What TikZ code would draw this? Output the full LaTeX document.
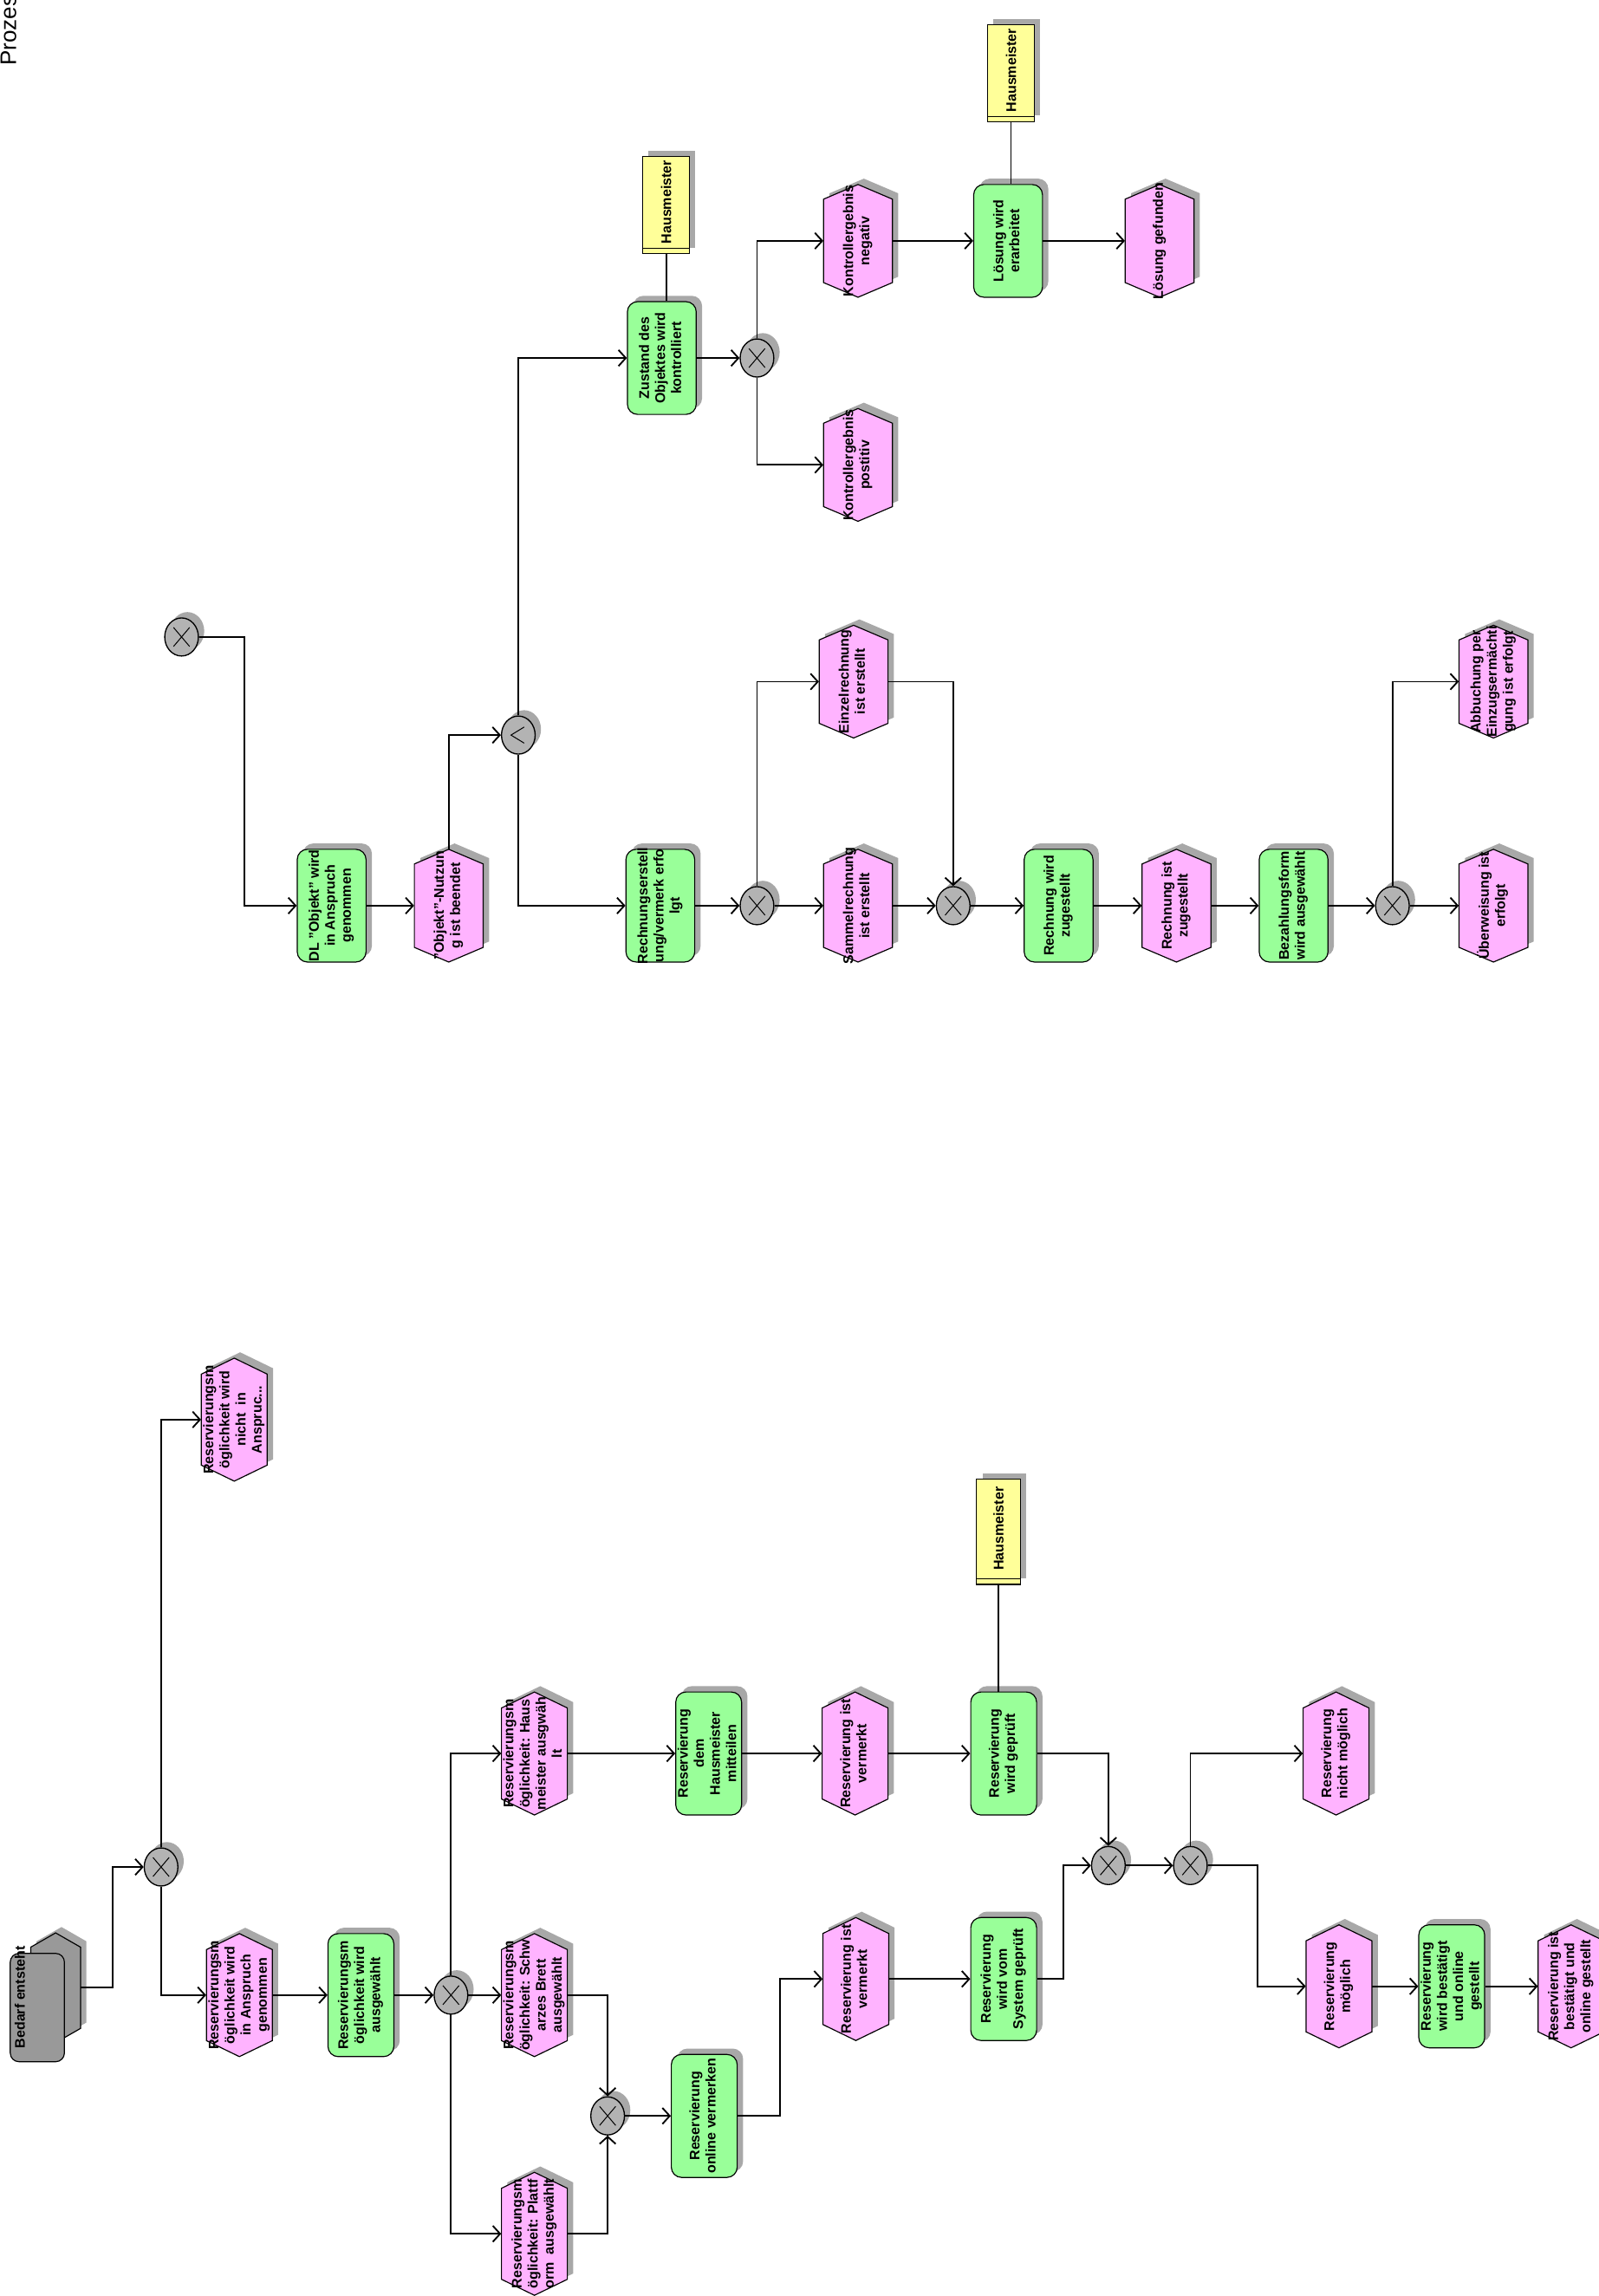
\documentclass[tikz,border=0pt]{standalone}
\usepackage{fontspec}
\setmainfont{Liberation Sans}
\usepackage{graphicx}
\usetikzlibrary{shapes.geometric,arrows.meta,shadows}
\definecolor{fctc}{HTML}{99FF99}
\definecolor{evtc}{HTML}{FFB3FF}
\definecolor{orgc}{HTML}{FFFF99}
\definecolor{gatec}{HTML}{B3B3B3}
\definecolor{shadc}{HTML}{A8A8A8}
\definecolor{startc}{HTML}{999999}
\newcommand\rt[1]{\rotatebox{90}{\begin{tabular}{@{}c@{}}#1\end{tabular}}}
\tikzset{
  lbl/.style={inner sep=0pt, font=\fontsize{9.5}{11}\selectfont\bfseries},
  shad/.style={drop shadow={shadow xshift=4pt, shadow yshift=4pt, fill=shadc, opacity=1}},
  fct/.style={draw, fill=fctc, rounded corners=7pt, line width=.7pt, inner sep=0pt, shad},
  org/.style={draw, fill=orgc, line width=.7pt, inner sep=0pt, shad},
  gate/.style={ellipse, draw, fill=gatec, line width=.8pt, inner sep=0pt, minimum width=23pt, minimum height=26pt, shad},
  arr/.style={line width=1.1pt, -{Straight Barb[length=5pt,width=11pt]}},
  lnk/.style={line width=1pt},
}
% hexagon: x y w h fill
\newcommand\myhexa[5]{%
  \pgfmathsetmacro\hw{#3/2}\pgfmathsetmacro\hh{#4/2}\pgfmathsetmacro\rs{#4*0.13}%
  \begin{scope}[shift={(#1,#2)}]
   \fill[shadc] (4-\hw,-4-\hh+\rs) -- (4,-4-\hh) -- (4+\hw,-4-\hh+\rs) -- (4+\hw,-4+\hh-\rs) -- (4,-4+\hh) -- (4-\hw,-4+\hh-\rs) -- cycle;
   \draw[fill=#5, line width=.7pt] (-\hw,-\hh+\rs) -- (0,-\hh) -- (\hw,-\hh+\rs) -- (\hw,\hh-\rs) -- (0,\hh) -- (-\hw,\hh-\rs) -- cycle;
  \end{scope}}
\newcommand\myevt[6]{%
  \myhexa{#2}{#3}{#4}{#5}{evtc}%
  \node[inner sep=0pt, minimum width=#4pt, minimum height=#5pt] (#1) at (#2,#3) {};
  \node[lbl] at (#1.center) {\rt{#6}};}
\newcommand\myfct[6]{%
  \node[fct, minimum width=#4pt, minimum height=#5pt] (#1) at (#2,#3) {};
  \node[lbl] at (#1.center) {\rt{#6}};}
\newcommand\myorg[5]{%
  \node[org, minimum width=#4pt, minimum height=#5pt] (#1) at (#2,#3) {};
  \draw[line width=.6pt] ([yshift=4pt]#1.south west) -- ([yshift=4pt]#1.south east);
  \node[lbl] at ([yshift=2pt]#1.center) {\rotatebox{90}{Hausmeister}};}
\newcommand\myxor[3]{%
  \node[gate] (#1) at (#2,#3) {};
  \draw[line width=.6pt] (#1.center) ++(-5.5,-6.5) -- ++(11,13) (#1.center) ++(-5.5,6.5) -- ++(11,-13);}
\newcommand\myand[3]{%
  \node[gate] (#1) at (#2,#3) {};
  \draw[line width=.6pt] (#1.center) ++(4,-5.5) -- ++(-9,5.5) -- ++(9,5.5);}
\begin{document}
\begin{tikzpicture}[x=1pt,y=-1pt]
\useasboundingbox (0,0) rectangle (1092,1568);
\node[rotate=90, anchor=base west, inner sep=0pt, font=\fontsize{15.4}{18}\selectfont] (title) at (11,45) {Prozes};

% ---------- upper process ----------
\myxor{x0}{124}{435}
\myfct{f1}{226.5}{618.5}{47}{77}{DL "Objekt" wird\\in Anspruch\\genommen}
\myevt{e1}{306.5}{618.5}{47}{77}{"Objekt"-Nutzun\\g ist beendet}
\myand{a1}{354}{502}
\myfct{f2}{451}{618.5}{47}{77}{Rechnungserstell\\ung/vermerk erfo\\lgt}
\myfct{f3}{452}{244.5}{47}{77}{Zustand des\\Objektes wird\\kontrolliert}
\myorg{o1}{455}{140}{32}{66}
\myxor{x1}{517}{244.5}
\myevt{e2}{586}{164.5}{47}{77}{Kontrollergebnis\\negativ}
\myevt{e3}{586}{317.5}{47}{77}{Kontrollergebnis\\postitiv}
\myfct{f4}{688.5}{164.5}{47}{77}{Lösung wird\\erarbeitet}
\myorg{o2}{690.5}{50}{32}{66}
\myevt{e4}{792}{164.5}{47}{77}{Lösung gefunden}
\myxor{x2}{517}{618.5}
\myevt{e5}{583}{465.5}{47}{77}{Einzelrechnung\\ist erstellt}
\myevt{e6}{586}{618.5}{47}{77}{Sammelrechnung\\ist erstellt}
\myxor{x3}{651}{618.5}
\myfct{f5}{723}{618.5}{47}{77}{Rechnung wird\\zugestellt}
\myevt{e7}{803.5}{618.5}{47}{77}{Rechnung ist\\zugestellt}
\myfct{f6}{883.5}{618.5}{47}{77}{Bezahlungsform\\wird ausgewählt}
\myxor{x4}{951}{618.5}
\myevt{e8}{1020}{618.5}{47}{77}{Überweisung ist\\erfolgt}
\myevt{e9}{1020}{465.5}{47}{77}{Abbuchung per\\Einzugsermächti\\gung ist erfolgt}

\draw[arr] (x0.east) -- ++(31,0) |- (f1.west);
\draw[arr] (f1.east) -- (e1.west);
\draw[arr] (e1.north) |- (a1.west);
\draw[arr] (a1.north) |- (f3.west);
\draw[arr] (a1.south) |- (f2.west);
\draw[lnk] (o1.south) -- (o1.south |- f3.north);
\draw[arr] (f3.east) -- (x1.west);
\draw[arr] (x1.north) |- (e2.west);
\draw[arr] (x1.south) |- (e3.west);
\draw[arr] (e2.east) -- (f4.west);
\draw[lnk] (o2.south) -- (o2.south |- f4.north);
\draw[arr] (f4.east) -- (e4.west);
\draw[arr] (f2.east) -- (x2.west);
\draw[arr] (x2.north) |- (e5.west);
\draw[arr] (x2.east) -- (e6.west);
\draw[arr] (e5.east) -| (x3.north);
\draw[arr] (e6.east) -- (x3.west);
\draw[arr] (x3.east) -- (f5.west);
\draw[arr] (f5.east) -- (e7.west);
\draw[arr] (e7.east) -- (f6.west);
\draw[arr] (f6.east) -- (x4.west);
\draw[arr] (x4.east) -- (e8.west);
\draw[arr] (x4.north) |- (e9.west);

% ---------- lower process ----------
\myhexa{38}{1357.5}{34}{75}{startc}
\node[inner sep=0pt, minimum width=34pt, minimum height=75pt] (s0) at (38,1357.5) {};
\node[draw, fill=startc, rounded corners=6pt, line width=.7pt, minimum width=37pt, minimum height=74pt] (s1) at (25.5,1371) {};
\node[lbl] (s1t) at (13.5,1364) {\rotatebox{90}{Bedarf entsteht}};

\myxor{x5}{110}{1275}
\myevt{e10}{160}{969.5}{45}{84}{Reservierungsm\\öglichkeit wird\\nicht\ \ in\\Anspruc...}
\myevt{e11}{163.5}{1362.5}{45}{84}{Reservierungsm\\öglichkeit wird\\in Anspruch\\genommen}
\myfct{f7}{246.5}{1362.5}{45}{84}{Reservierungsm\\öglichkeit wird\\ausgewählt}
\myxor{x6}{308}{1362.5}
\myevt{e12}{365}{1197.5}{45}{84}{Reservierungsm\\öglichkeit: Haus\\meister ausgwäh\\lt}
\myevt{e13}{365}{1362.5}{45}{84}{Reservierungsm\\öglichkeit: Schw\\arzes Brett\\ausgewählt}
\myevt{e14}{365}{1525.5}{45}{84}{Reservierungsm\\öglichkeit: Plattf\\orm\ \ ausgewählt}
\myxor{x7}{415}{1445}
\myfct{f8}{481}{1445}{45}{84}{Reservierung\\online vermerken}
\myevt{e15}{584.5}{1351.5}{45}{84}{Reservierung ist\\vermerkt}
\myfct{f9}{685.5}{1351.5}{45}{84}{Reservierung\\wird vom\\System geprüft}
\myfct{f10}{484}{1197.5}{45}{84}{Reservierung\\dem\\Hausmeister\\mitteilen}
\myevt{e16}{584}{1197.5}{45}{84}{Reservierung ist\\vermerkt}
\myfct{f11}{685.5}{1197.5}{45}{84}{Reservierung\\wird geprüft}
\myorg{o3}{682}{1046}{30}{72}
\myxor{x8}{757}{1274}
\myxor{x9}{813}{1274}
\myevt{e17}{912.5}{1197.5}{45}{84}{Reservierung\\nicht möglich}
\myevt{e18}{914.5}{1356.5}{45}{84}{Reservierung\\möglich}
\myfct{f12}{991.5}{1356.5}{45}{84}{Reservierung\\wird bestätigt\\und online\\gestellt}
\myevt{e19}{1073}{1356.5}{45}{84}{Reservierung ist\\bestätigt und\\online gestellt}

\draw[arr] (s0.east) -- ++(22,0) |- (x5.west);
\draw[arr] (x5.north) |- (e10.west);
\draw[arr] (x5.south) |- (e11.west);
\draw[arr] (e11.east) -- (f7.west);
\draw[arr] (f7.east) -- (x6.west);
\draw[arr] (x6.north) |- (e12.west);
\draw[arr] (x6.east) -- (e13.west);
\draw[arr] (x6.south) |- (e14.west);
\draw[arr] (e13.east) -| (x7.north);
\draw[arr] (e14.east) -| (x7.south);
\draw[arr] (x7.east) -- (f8.west);
\draw[arr] (f8.east) -- ++(29,0) |- (e15.west);
\draw[arr] (e15.east) -- (f9.west);
\draw[arr] (f9.east) -- ++(18,0) |- (x8.west);
\draw[arr] (e12.east) -- (f10.west);
\draw[arr] (f10.east) -- (e16.west);
\draw[arr] (e16.east) -- (f11.west);
\draw[lnk] (o3.south) -- (o3.south |- f11.north);
\draw[arr] (f11.east) -| (x8.north);
\draw[arr] (x8.east) -- (x9.west);
\draw[arr] (x9.north) |- (e17.west);
\draw[arr] (x9.east) -- ++(34,0) |- (e18.west);
\draw[arr] (e18.east) -- (f12.west);
\draw[arr] (f12.east) -- (e19.west);
\end{tikzpicture}
\end{document}
